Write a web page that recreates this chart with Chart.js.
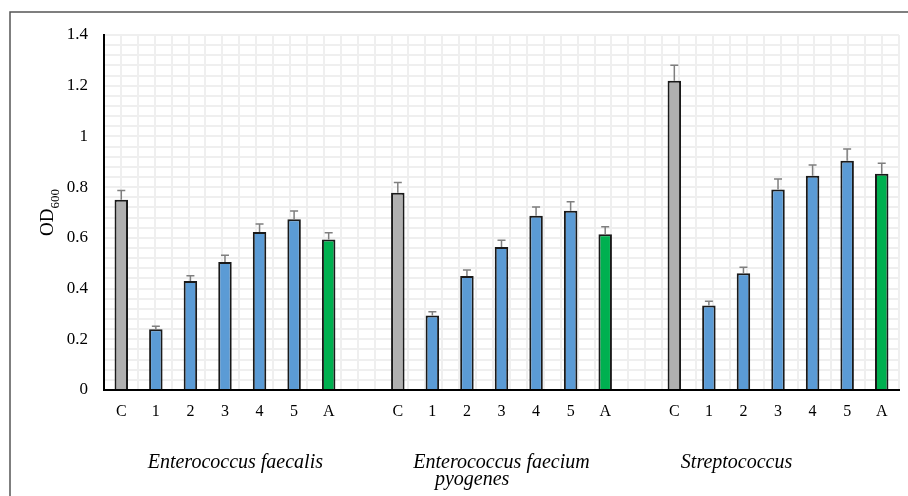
<!DOCTYPE html>
<html>
<head>
<meta charset="utf-8">
<script src="https://cdn.jsdelivr.net/npm/chart.js@4"></script>
<style>
  html, body { margin: 0; padding: 0; background: #fff; }
  #wrap { width: 908px; height: 496px; }
</style>
</head>
<body>
<div id="wrap"><canvas id="odChart"></canvas></div>
<script>
const barLabels = ['C', '1', '2', '3', '4', '5', 'A'];
const groupNames = [['Enterococcus faecalis'], ['Enterococcus faecium', 'pyogenes'], ['Streptococcus']];
const yTicks = [0, 0.2, 0.4, 0.6, 0.8, 1, 1.2, 1.4];

const faecalis = [0.75, 0.24, 0.43, 0.505, 0.623, 0.673, 0.594];
const faecalisErr = [0.037, 0.011, 0.021, 0.026, 0.032, 0.033, 0.026];
const faecium = [0.778, 0.294, 0.45, 0.564, 0.687, 0.707, 0.614];
const faeciumErr = [0.04, 0.015, 0.023, 0.027, 0.035, 0.035, 0.03];
const strep = [1.22, 0.333, 0.46, 0.791, 0.845, 0.904, 0.853];
const strepErr = [0.061, 0.017, 0.024, 0.041, 0.042, 0.046, 0.041];

// one blank category between the groups
const labels = [...barLabels, '', ...barLabels, '', ...barLabels];
const values = [...faecalis, null, ...faecium, null, ...strep];
const errors = [...faecalisErr, null, ...faeciumErr, null, ...strepErr];
const colors = labels.map(l => l === 'C' ? '#b0b0b0' : (l === 'A' ? '#00b050' : '#5b9bd5'));

const serif = '"Liberation Serif", "Times New Roman", serif';
const gridColor = '#efefef';

const errorBars = {
    id: 'errorBars',
    afterDatasetsDraw(chart) {
        const ctx = chart.ctx;
        const meta = chart.getDatasetMeta(0);
        const y = chart.scales.y;
        ctx.save();
        ctx.strokeStyle = '#7f7f7f';
        ctx.lineWidth = 1.5;
        meta.data.forEach((bar, i) => {
            if (values[i] == null) return;
            const top = y.getPixelForValue(values[i] + errors[i]);
            const base = y.getPixelForValue(values[i]);
            ctx.beginPath();
            ctx.moveTo(bar.x, base);
            ctx.lineTo(bar.x, top);
            ctx.moveTo(bar.x - 4, top);
            ctx.lineTo(bar.x + 4, top);
            ctx.stroke();
        });
        ctx.restore();
    }
};

const decorations = {
    id: 'decorations',
    afterDraw(chart) {
        const ctx = chart.ctx;
        const area = chart.chartArea;
        const x = chart.scales.x;
        ctx.save();

        // outer frame (top and left only visible)
        ctx.strokeStyle = '#555';
        ctx.lineWidth = 1.5;
        ctx.beginPath();
        ctx.moveTo(10, chart.height);
        ctx.lineTo(10, 12);
        ctx.lineTo(chart.width, 12);
        ctx.stroke();

        // y title OD with subscript 600
        ctx.fillStyle = '#000';
        ctx.translate(53, (area.top + area.bottom) / 2);
        ctx.rotate(-Math.PI / 2);
        ctx.font = '19px ' + serif;
        const wOD = ctx.measureText('OD').width;
        ctx.font = '13px ' + serif;
        const wSub = ctx.measureText('600').width;
        const start = -(wOD + wSub) / 2;
        ctx.textBaseline = 'alphabetic';
        ctx.font = '19px ' + serif;
        ctx.fillText('OD', start, 0);
        ctx.font = '13px ' + serif;
        ctx.fillText('600', start + wOD, 6);
        ctx.setTransform(1, 0, 0, 1, 0, 0);
        ctx.scale(chart.currentDevicePixelRatio, chart.currentDevicePixelRatio);

        // group names under the category labels
        ctx.font = 'italic 20px ' + serif;
        ctx.textAlign = 'center';
        ctx.fillStyle = '#000';
        const centers = [[3.3], [11.0, 10.15], [17.8]];
        groupNames.forEach((lines, g) => {
            lines.forEach((txt, k) => {
                ctx.fillText(txt, x.getPixelForValue(centers[g][k]), 468 + k * 17);
            });
        });
        ctx.restore();
    }
};

new Chart(document.getElementById('odChart'), {
    type: 'bar',
    data: {
        labels: labels,
        datasets: [{
            data: values,
            backgroundColor: colors,
            borderColor: '#1a1a1a',
            borderWidth: 2,
            barPercentage: 0.39,
            categoryPercentage: 1
        }]
    },
    options: {
        responsive: true,
        maintainAspectRatio: false,
        animation: false,
        layout: { padding: { top: 35, right: 9, left: 0, bottom: 0 } },
        plugins: {
            legend: { display: false },
            tooltip: { enabled: false }
        },
        scales: {
            x: {
                type: 'category',
                grid: { display: false, drawTicks: false },
                border: { display: true, color: '#000', width: 2 },
                ticks: {
                    autoSkip: false,
                    maxRotation: 0,
                    padding: 12,
                    color: '#000',
                    font: { family: serif, size: 16 }
                },
                afterFit: s => { s.height = 106; }
            },
            xg: {
                type: 'linear',
                position: 'bottom',
                min: 0,
                max: labels.length * 2,
                ticks: { display: false, stepSize: 1 },
                grid: { color: gridColor, lineWidth: 2, drawTicks: false },
                border: { display: false },
                afterFit: s => { s.height = 0; }
            },
            y: {
                min: 0,
                max: 1.4,
                grid: { color: gridColor, lineWidth: 2, drawTicks: false },
                border: { display: true, color: '#000', width: 2 },
                ticks: {
                    stepSize: 0.04,
                    autoSkip: false,
                    padding: 16,
                    color: '#000',
                    font: { family: serif, size: 17 },
                    callback: v => {
                        const hit = yTicks.find(t => Math.abs(t - v) < 1e-6);
                        return hit === undefined ? '' : String(hit);
                    }
                },
                afterFit: s => { s.width = 104; }
            }
        }
    },
    plugins: [errorBars, decorations]
});
</script>
</body>
</html>
